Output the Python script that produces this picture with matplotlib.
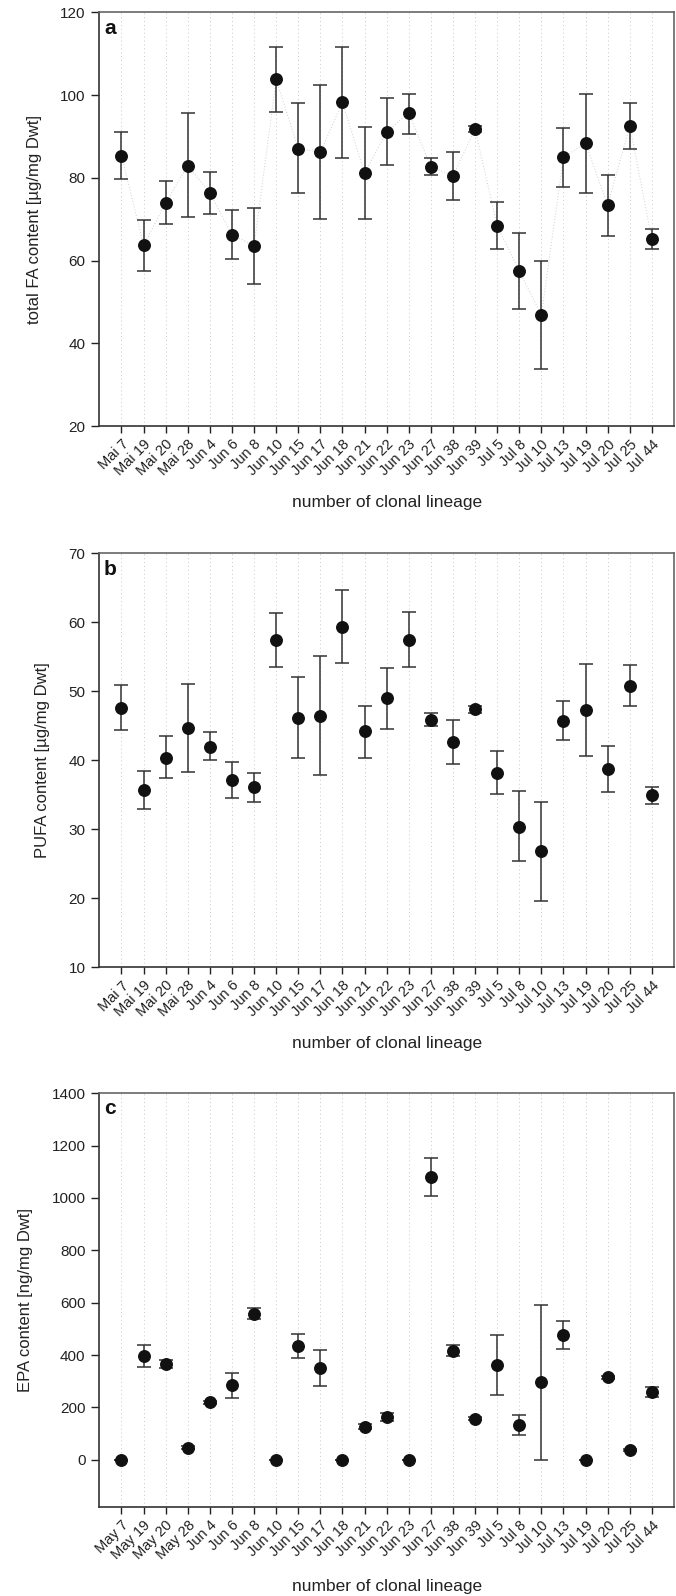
# Fatty acid content per clonal lineage (3 panels)
import numpy as np
import matplotlib.pyplot as plt

plt.rcParams['font.family'] = ['Liberation Sans', 'DejaVu Sans']

# Categories
labels_ab = ['Mai 7', 'Mai 19', 'Mai 20', 'Mai 28', 'Jun 4', 'Jun 6', 'Jun 8', 'Jun 10',
             'Jun 15', 'Jun 17', 'Jun 18', 'Jun 21', 'Jun 22', 'Jun 23', 'Jun 27', 'Jun 38',
             'Jun 39', 'Jul 5', 'Jul 8', 'Jul 10', 'Jul 13', 'Jul 19', 'Jul 20', 'Jul 25', 'Jul 44']
labels_c = [s.replace('Mai', 'May') for s in labels_ab]

# Panel a: total FA (mean, lower bound, upper bound)
fa_mean = [85.4, 63.7, 74.0, 83.0, 76.4, 66.3, 63.6, 103.8, 87.1, 86.2, 98.3, 81.1, 91.2,
           95.7, 82.7, 80.5, 91.8, 68.4, 57.5, 46.9, 85.0, 88.4, 73.4, 92.6, 65.2]
fa_low = [79.7, 57.4, 68.8, 70.5, 71.3, 60.4, 54.4, 95.9, 76.3, 70.0, 84.7, 70.0, 83.1,
          90.7, 80.7, 74.7, 91.0, 62.9, 48.2, 33.8, 77.7, 76.4, 66.0, 87.1, 62.7]
fa_high = [91.1, 69.9, 79.3, 95.6, 81.5, 72.2, 72.8, 111.7, 98.0, 102.5, 111.7, 92.3, 99.4,
           100.4, 84.7, 86.2, 92.6, 74.1, 66.6, 59.9, 92.1, 100.4, 80.8, 98.0, 67.7]

# Panel b: PUFA
pufa_mean = [47.6, 35.7, 40.4, 44.7, 42.0, 37.2, 36.1, 57.4, 46.2, 46.5, 59.4, 44.2, 49.0,
             57.5, 45.9, 42.7, 47.4, 38.2, 30.4, 26.8, 45.7, 47.3, 38.8, 50.8, 34.9]
pufa_low = [44.4, 32.9, 37.4, 38.3, 40.0, 34.6, 34.0, 53.6, 40.3, 37.9, 54.1, 40.4, 44.5,
            53.5, 45.0, 39.4, 46.9, 35.1, 25.4, 19.6, 42.9, 40.6, 35.4, 47.9, 33.6]
pufa_high = [50.9, 38.4, 43.5, 51.0, 44.1, 39.8, 38.2, 61.4, 52.1, 55.1, 64.7, 47.9, 53.4,
             61.5, 46.8, 45.8, 47.9, 41.3, 35.5, 34.0, 48.6, 54.0, 42.1, 53.8, 36.2]

# Panel c: EPA
epa_mean = [0, 395, 365, 47, 220, 285, 557, 0, 435, 350, 0, 127, 163,
            0, 1080, 415, 157, 362, 133, 297, 478, 0, 316, 38, 260]
epa_low = [0, 355, 350, 42, 214, 237, 537, 0, 390, 282, 0, 118, 147,
           0, 1008, 395, 152, 248, 93, 0, 425, 0, 310, 34, 240]
epa_high = [0, 437, 380, 52, 226, 333, 578, 0, 482, 418, 0, 136, 180,
            0, 1152, 438, 162, 477, 173, 593, 530, 0, 322, 42, 280]

panels = [
    ('a', labels_ab, fa_mean, fa_low, fa_high, 'total FA content [µg/mg Dwt]',
     (20, 120), np.arange(20, 121, 20), True),
    ('b', labels_ab, pufa_mean, pufa_low, pufa_high, 'PUFA content [µg/mg Dwt]',
     (10, 70), np.arange(10, 71, 10), False),
    ('c', labels_c, epa_mean, epa_low, epa_high, 'EPA content [ng/mg Dwt]',
     (-180, 1400), np.arange(0, 1401, 200), False),
]

fig = plt.figure(figsize=(6.76, 15.96), dpi=100)
bottoms = [0.733, 0.394, 0.0558]

for (letter, labels, mean, low, high, ylab, ylim, yticks, connect), bot in zip(panels, bottoms):
    ax = fig.add_axes([0.147, bot, 0.85, 0.2592])
    x = np.arange(len(labels))
    mean = np.array(mean, dtype=float)
    yerr = [mean - np.array(low), np.array(high) - mean]

    for xi in x:
        ax.axvline(xi, color='#c8c8c8', lw=0.7, ls=(0, (1, 3)), zorder=0)

    if connect:
        ax.plot(x, mean, color='#cfcfcf', lw=0.7, ls=(0, (1, 2)), zorder=1)

    ax.errorbar(x, mean, yerr=yerr, fmt='o', color='#111111', ecolor='#333333',
                elinewidth=1.1, capsize=5, capthick=1.1, markersize=8.3, zorder=3)

    ax.set_xlim(-1, len(labels))
    ax.set_ylim(*ylim)
    ax.set_yticks(yticks)
    ax.set_xticks(x)
    ax.set_xticklabels(labels, rotation=45, ha='right', va='top',
                       rotation_mode='anchor', fontsize=10.5, color='#222222')
    ax.tick_params(axis='y', labelsize=11, length=6, width=1, colors='#222222', pad=4)
    ax.tick_params(axis='x', length=5, width=1, colors='#222222', pad=3)

    ax.set_ylabel(ylab, fontsize=12, color='#222222', labelpad=13)
    ax.set_xlabel('number of clonal lineage', fontsize=12.5, color='#222222', labelpad=12)

    for side in ['left', 'bottom']:
        ax.spines[side].set_color('#333333')
        ax.spines[side].set_linewidth(1.2)
    for side in ['top', 'right']:
        ax.spines[side].set_color('#666666')
        ax.spines[side].set_linewidth(1.2)

    ax.text(0.008, 0.985, letter, transform=ax.transAxes, fontsize=15,
            fontweight='bold', ha='left', va='top', color='#111111')

fig.savefig('out.png', dpi=100)
